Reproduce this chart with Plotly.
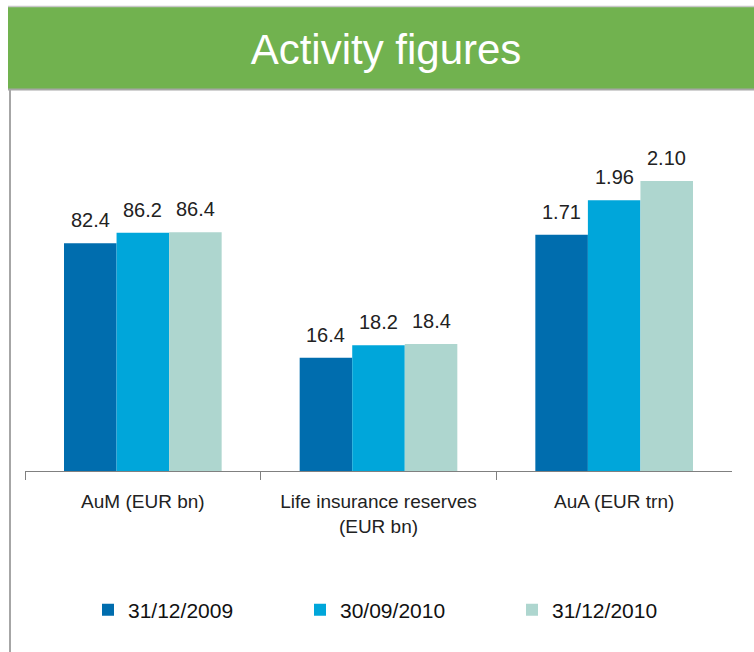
import plotly.graph_objects as go

# ---- data ----
categories = ["AuM (EUR bn)", "Life insurance reserves<br>(EUR bn)", "AuA (EUR trn)"]
series_names = ["31/12/2009", "30/09/2010", "31/12/2010"]
values_2009_12 = [82.4, 16.4, 1.71]
values_2010_09 = [86.2, 18.2, 1.96]
values_2010_12 = [86.4, 18.4, 2.10]
label_formats = ["{:.1f}", "{:.1f}", "{:.2f}"]
group_ranges = [134.3, 53.7, 2.686]

series_values = [values_2009_12, values_2010_09, values_2010_12]
colors = ["#006DAE", "#00A6DA", "#AED6CF"]

FONT = "Liberation Sans, Arial, sans-serif"

W, H = 754, 652
ML, MR, MT, MB = 25, 22, 100, 181
BARGAP = 0.331

fig = go.Figure()
annotations = []
n_series = len(series_names)
bar_w = (1 - BARGAP) / n_series
for g, cat in enumerate(categories):
    ax = "" if g == 0 else str(g + 1)
    for s, name in enumerate(series_names):
        val = series_values[s][g]
        fig.add_trace(go.Bar(
            x=[cat], y=[val], name=name,
            marker=dict(color=colors[s], line=dict(width=0)),
            legendgroup=name, showlegend=(g == 0),
            xaxis="x" + ax, yaxis="y" + ax,
            hoverinfo="skip",
        ))
        annotations.append(dict(
            xref="x" + ax, yref="y" + ax,
            x=(s - (n_series - 1) / 2) * bar_w, y=val,
            text=label_formats[g].format(val), showarrow=False,
            xanchor="center", yanchor="bottom", yshift=10,
            font=dict(family=FONT, size=20, color="#222222"),
        ))

layout_axes = {}
for g in range(3):
    ax = "" if g == 0 else str(g + 1)
    layout_axes["xaxis" + ax] = dict(
        domain=[g / 3, (g + 1) / 3], anchor="y" + ax, type="category",
        showline=True, linecolor="#808080", linewidth=1,
        ticks="outside", tickson="boundaries", ticklen=8, tickcolor="#808080",
        tickfont=dict(family=FONT, size=19, color="#222222"),
        ticklabelstandoff=13, showgrid=False, zeroline=False, fixedrange=True,
    )
    layout_axes["yaxis" + ax] = dict(
        anchor="x" + ax, range=[0, group_ranges[g]], visible=False,
        fixedrange=True,
    )

ph = H - MT - MB
pw = W - ML - MR
def px_x(p):
    return (p - ML) / pw
def px_y(p):
    return (H - MB - p) / ph

shapes = [
    dict(type="rect", xref="paper", yref="paper",
         x0=px_x(8), x1=px_x(756), y0=px_y(89), y1=px_y(7),
         fillcolor="#71B24F", line=dict(width=0), layer="below"),
    dict(type="line", xref="paper", yref="paper",
         x0=px_x(8), x1=px_x(756), y0=px_y(6.5), y1=px_y(6.5),
         line=dict(color="#C8C8C8", width=1.5)),
    dict(type="line", xref="paper", yref="paper",
         x0=px_x(8), x1=px_x(756), y0=px_y(89.5), y1=px_y(89.5),
         line=dict(color="#A6A6A6", width=2)),
    dict(type="line", xref="paper", yref="paper",
         x0=px_x(10), x1=px_x(10), y0=px_y(89), y1=px_y(660),
         line=dict(color="#A6A6A6", width=2)),
]

fig.update_layout(
    width=W, height=H,
    margin=dict(l=ML, r=MR, t=MT, b=MB, pad=0),
    paper_bgcolor="white", plot_bgcolor="white",
    barmode="group", bargap=BARGAP, bargroupgap=0,
    title=dict(text="Activity figures", x=386 / W, xref="container",
               y=1 - 49 / H, yref="container", xanchor="center", yanchor="middle",
               font=dict(family=FONT, size=42, color="white")),
    showlegend=True,
    legend=dict(orientation="h", xref="container", yref="container",
                x=88 / W, y=1 - 610 / H, xanchor="left", yanchor="middle",
                font=dict(family=FONT, size=21, color="#111111"),
                entrywidth=167, entrywidthmode="pixels",
                traceorder="normal", bgcolor="rgba(0,0,0,0)", itemclick=False,
                itemdoubleclick=False),
    shapes=shapes,
    annotations=annotations,
    **layout_axes,
)

fig.write_html("out.html", config={"displayModeBar": False},
               post_script="document.body.style.margin='0';")
